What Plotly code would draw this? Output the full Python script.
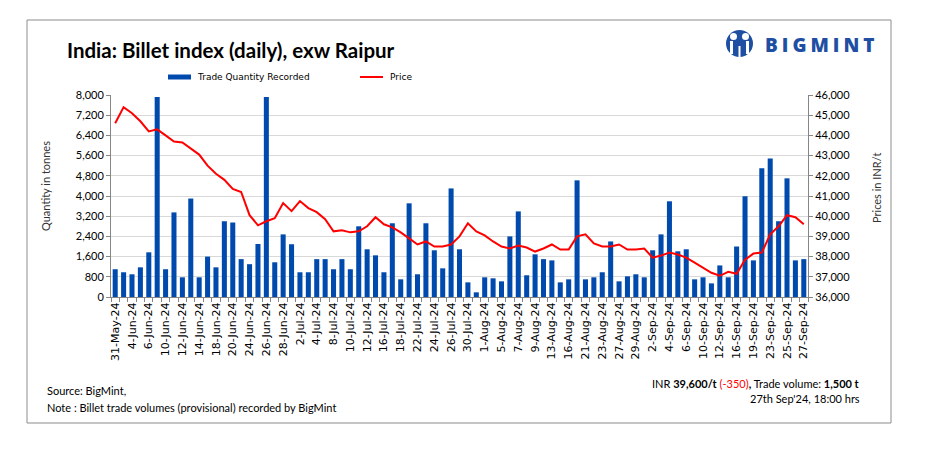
import plotly.graph_objects as go

# daily trade days shown on the chart
dates = [
    '31-May-24', '3-Jun-24', '4-Jun-24', '5-Jun-24', '6-Jun-24', '7-Jun-24',
    '10-Jun-24', '11-Jun-24', '12-Jun-24', '13-Jun-24', '14-Jun-24',
    '17-Jun-24', '18-Jun-24', '19-Jun-24', '20-Jun-24', '21-Jun-24',
    '24-Jun-24', '25-Jun-24', '26-Jun-24', '27-Jun-24', '28-Jun-24',
    '1-Jul-24', '2-Jul-24', '3-Jul-24', '4-Jul-24', '5-Jul-24',
    '8-Jul-24', '9-Jul-24', '10-Jul-24', '11-Jul-24', '12-Jul-24',
    '15-Jul-24', '16-Jul-24', '17-Jul-24', '18-Jul-24', '19-Jul-24',
    '22-Jul-24', '23-Jul-24', '24-Jul-24', '25-Jul-24', '26-Jul-24',
    '29-Jul-24', '30-Jul-24', '31-Jul-24', '1-Aug-24', '2-Aug-24',
    '5-Aug-24', '6-Aug-24', '7-Aug-24', '8-Aug-24', '9-Aug-24',
    '12-Aug-24', '13-Aug-24', '14-Aug-24', '16-Aug-24', '19-Aug-24',
    '21-Aug-24', '22-Aug-24', '23-Aug-24', '26-Aug-24', '27-Aug-24',
    '28-Aug-24', '29-Aug-24', '30-Aug-24', '2-Sep-24', '3-Sep-24',
    '4-Sep-24', '5-Sep-24', '6-Sep-24', '9-Sep-24', '10-Sep-24',
    '11-Sep-24', '12-Sep-24', '13-Sep-24', '16-Sep-24', '17-Sep-24',
    '19-Sep-24', '20-Sep-24', '23-Sep-24', '24-Sep-24', '25-Sep-24',
    '26-Sep-24', '27-Sep-24',
]

quantity = [
    1100, 980, 900, 1175, 1770, 7920,
    1100, 3350, 780, 3900, 780,
    1600, 1175, 3000, 2950, 1500,
    1300, 2100, 7920, 1375, 2480,
    2090, 980, 980, 1500, 1500,
    1100, 1500, 1100, 2800, 1890,
    1650, 980, 2920, 700, 3710,
    900, 2920, 1850, 1135, 4300,
    1890, 580, 185, 780, 740,
    620, 2400, 3390, 860, 1690,
    1500, 1450, 580, 700, 4620,
    700, 780, 980, 2200, 620,
    820, 900, 780, 1850, 2480,
    3790, 1810, 1890, 700, 780,
    540, 1250, 780, 2000, 3990,
    1450, 5100, 5490, 3000, 4700,
    1450, 1500,
]

price = [
    44600, 45400, 45100, 44700, 44200, 44300,
    44000, 43700, 43650, 43350, 43050,
    42500, 42100, 41800, 41350, 41200,
    40050, 39550, 39750, 39900, 40650,
    40250, 40750, 40400, 40200, 39850,
    39250, 39300, 39200, 39250, 39500,
    39950, 39600, 39450, 39200, 38900,
    38600, 38750, 38500, 38500, 38600,
    39000, 39650, 39250, 39050, 38750,
    38500, 38400, 38550, 38450, 38250,
    38400, 38600, 38350, 38350, 39000,
    39100, 38650, 38500, 38500, 38600,
    38350, 38350, 38400, 37950, 38050,
    38200, 38100, 37950, 37700, 37450,
    37200, 37050, 37250, 37150, 37850,
    38150, 38200, 39100, 39500, 40050,
    39950, 39600,
]

# page has an 8px body margin, so the figure is drawn 8px smaller
OFF = 8
W, H = 925 - OFF, 449 - OFF
L, R, T, B = 111, 808, 95, 297   # plot area in page pixels

BLUE = '#004AAD'
RED = '#FF0000'
LOGO = '#1F4FA3'


def px(x):
    return (x - L) / (R - L)


def py(y):
    return (B - y) / (B - T)


fig = go.Figure()
fig.add_trace(go.Bar(x=dates, y=quantity, name='Trade Quantity Recorded',
                     marker=dict(color=BLUE, line=dict(width=0))))
fig.add_trace(go.Scatter(x=dates, y=price, name='Price', mode='lines', yaxis='y2',
                         line=dict(color=RED, width=2)))

axis_font = dict(family='Lato', size=11, color='#000000')

fig.update_layout(
    width=W, height=H,
    margin=dict(l=L - OFF, r=W - (R - OFF), t=T - OFF, b=H - (B - OFF), pad=0),
    paper_bgcolor='white', plot_bgcolor='white',
    showlegend=False,
    bargap=0.4,
    xaxis=dict(type='category', range=[-0.5, len(dates) - 0.5],
               tickangle=-90, dtick=1, ticklabelstep=2, tickson='boundaries',
               ticks='outside', ticklen=4, tickcolor='#868686',
               showline=True, linecolor='#868686', linewidth=1, showgrid=False,
               tickfont=dict(family='DejaVu Sans', size=11, color='#000000')),
    yaxis=dict(range=[0, 8000], dtick=800, tickformat=',', ticks='outside',
               ticklen=4, tickcolor='#868686', showline=True, linecolor='#868686',
               gridcolor='#D9D9D9', zeroline=False, tickfont=axis_font),
    yaxis2=dict(range=[36000, 46000], dtick=1000, tickformat=',', overlaying='y',
                side='right', ticks='outside', ticklen=4, tickcolor='#868686',
                showline=True, linecolor='#868686', showgrid=False, zeroline=False,
                tickfont=axis_font),
)

annotations = [
    dict(x=px(65), y=py(50), text='<b>India: Billet index (daily), exw Raipur</b>',
         xanchor='left', yanchor='middle',
         font=dict(family='Lato', size=20.5, color='#000000')),
    dict(x=px(45), y=py(186), text='Quantity in tonnes', textangle=-90,
         xanchor='center', yanchor='middle',
         font=dict(family='Lato', size=11, color='#333333')),
    dict(x=px(876), y=py(188), text='Prices in INR/t', textangle=-90,
         xanchor='center', yanchor='middle',
         font=dict(family='Lato', size=11, color='#333333')),
    dict(x=px(195), y=py(77), text='Trade Quantity Recorded', xanchor='left', yanchor='middle',
         font=dict(family='DejaVu Sans', size=9, color='#000000')),
    dict(x=px(388), y=py(77), text='Price', xanchor='left', yanchor='middle',
         font=dict(family='DejaVu Sans', size=9, color='#000000')),
    dict(x=px(763), y=py(45), text='<span style="letter-spacing:4px">BIGMINT</span>',
         xanchor='left', yanchor='middle',
         font=dict(family='Open Sans', size=19, color=LOGO, weight=800)),
    dict(x=px(45), y=py(390), text='Source: BigMint,', xanchor='left', yanchor='middle',
         font=dict(family='Lato', size=11, color='#000000')),
    dict(x=px(45), y=py(407), text='Note : Billet trade volumes (provisional) recorded by BigMint',
         xanchor='left', yanchor='middle',
         font=dict(family='Lato', size=11, color='#000000')),
    dict(x=px(862), y=py(383),
         text='INR <b>39,600/t</b> <span style="color:#FF0000">(-350)</span><b>,</b> Trade volume: <b>1,500 t</b>',
         xanchor='right', yanchor='middle',
         font=dict(family='Lato', size=11, color='#000000')),
    dict(x=px(862), y=py(398), text="27th Sep'24, 18:00 hrs", xanchor='right', yanchor='middle',
         font=dict(family='Lato', size=11, color='#000000')),
]
for a in annotations:
    a.update(xref='paper', yref='paper', showarrow=False)
fig.update_layout(annotations=annotations)

shapes = [
    # outer frame
    dict(type='rect', x0=px(27), x1=px(891), y0=py(20), y1=py(423),
         line=dict(color='#8C8C8C', width=1)),
    # legend swatches
    dict(type='rect', x0=px(168), x1=px(191), y0=py(79.5), y1=py(74.5),
         fillcolor=BLUE, line=dict(width=0)),
    dict(type='line', x0=px(360), x1=px(383), y0=py(77), y1=py(77),
         line=dict(color=RED, width=2)),
    # logo mark: blue disc with two white figures
    dict(type='circle', x0=px(726), x1=px(753), y0=py(30), y1=py(57),
         fillcolor=LOGO, line=dict(width=0)),
    dict(type='circle', x0=px(730), x1=px(737), y0=py(33), y1=py(40),
         fillcolor='white', line=dict(width=0)),
    dict(type='circle', x0=px(742), x1=px(749), y0=py(33), y1=py(40),
         fillcolor='white', line=dict(width=0)),
    dict(type='rect', x0=px(730), x1=px(733), y0=py(41), y1=py(54),
         fillcolor='white', line=dict(width=0)),
    dict(type='rect', x0=px(746), x1=px(749), y0=py(41), y1=py(54),
         fillcolor='white', line=dict(width=0)),
    dict(type='rect', x0=px(738.5), x1=px(740.5), y0=py(46), y1=py(57),
         fillcolor='white', line=dict(width=0)),
]
for s in shapes:
    s.update(xref='paper', yref='paper')
fig.update_layout(shapes=shapes)

fig.write_html('out.html')
